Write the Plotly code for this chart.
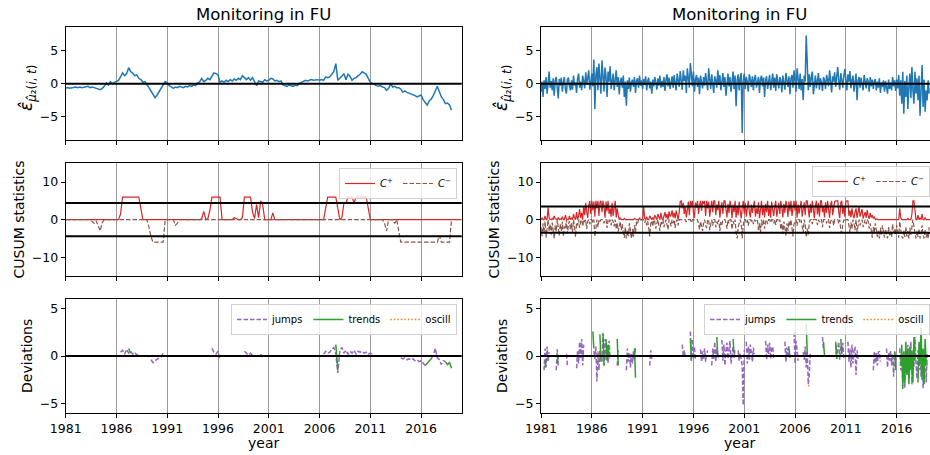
import plotly.graph_objects as go

N = None
START_YEAR = 1981.0
TICK_YEARS = [1981, 1986, 1991, 1996, 2001, 2006, 2011, 2016]
TICK_LABELS = ["1981", "1986", "1991", "1996", "2001", "2006", "2011", "2016"]
TITLE = "Monitoring in FU"
CUSUM_H_LEFT = 4.4
CUSUM_H_RIGHT = 3.5
ZERO = 0.0

# ---------------- left column: 5 samples per year ----------------
left_resid = [
    [-0.7, -0.6, -0.7, -0.6, -0.6],  # 1981
    [-0.5, -0.6, -0.5, -0.6, -0.5],
    [-0.5, -0.4, -0.6, -0.5, -0.6],
    [-0.7, -0.8, -0.9, -0.7, -0.4],
    [0.1, -0.2, 0.3, 0.0, 0.2],      # 1985
    [0.3, 0.5, 1.0, 1.6, 1.2],
    [1.5, 2.4, 1.8, 1.6, 1.2],
    [1.3, 0.8, 0.6, 0.2, 0.3],
    [-0.1, -0.6, -1.1, -1.6, -2.1],
    [-1.7, -1.2, -0.9, -0.3, 0.3],   # 1990
    [0.1, -0.3, -0.5, -0.7, -0.5],
    [-0.6, -0.4, -0.5, -0.6, -0.4],
    [-0.5, -0.3, -0.4, -0.2, -0.3],
    [0.1, 0.3, 0.8, 0.3, 0.5],
    [0.8, 0.6, 1.2, 1.6, 1.5],       # 1995
    [1.3, 0.2, 0.4, 0.2, 0.5],
    [0.3, 0.6, 0.4, 0.7, 0.5],
    [0.8, 0.6, 1.2, 0.9, 0.6],
    [0.9, 0.5, 0.9, 0.2, -0.3],
    [0.4, 0.3, 0.2, 0.6, 0.4],       # 2000
    [0.5, 0.8, 0.7, 0.4, 0.5],
    [0.3, 0.4, -0.2, -0.3, -0.4],
    [-0.2, -0.3, -0.4, -0.2, -0.3],
    [0.0, 0.2, 0.3, 0.5, 0.4],
    [0.5, 0.6, 0.5, 0.6, 0.6],       # 2005
    [0.5, 0.6, 0.5, 1.0, 0.9],
    [1.0, 1.4, 1.8, 3.0, 0.5],
    [0.8, 1.2, 1.5, 0.6, 1.4],
    [1.1, 0.5, 0.8, 0.9, 1.2],
    [1.4, 1.8, 1.6, 1.4, 0.8],       # 2010
    [0.2, 0.0, -0.2, -0.3, -0.4],
    [-0.3, -0.5, -0.6, -1.0, -0.7],
    [0.0, -0.5, -0.4, -0.6, -0.6],
    [-0.8, -1.3, -1.1, -1.3, -1.4],
    [-1.5, -1.6, -1.8, -2.0, -1.8],  # 2015
    [-1.7, -2.4, -2.9, -3.2, -2.6],
    [-2.3, -1.8, -1.0, -0.4, -1.2],
    [-2.0, -2.4, -3.0, -2.9, -3.2],
    [-4.0],                          # 2019
]

left_cplus = [
    [0, 0, 0, 0, 0],  # 1981
    [0, 0, 0, 0, 0],
    [0, 0, 0, 0, 0],
    [0, 0, 0, 0, 0],
    [0, 0, 0, 0, 0],  # 1985
    [0, 0, 1.5, 6.0, 6.0],
    [6.0, 6.0, 6.0, 6.0, 6.0],
    [6.0, 6.0, 3.0, 0, 0],
    [0, 0, 0, 0, 0],
    [0, 0, 0, 0, 0],  # 1990
    [0, 0, 0, 0, 0],
    [0, 0, 0, 0, 0],
    [0, 0, 0, 0, 0],
    [0, 0, 0.3, 2.2, 0],
    [0.3, 2.5, 6.0, 6.0, 6.0],  # 1995
    [6.0, 6.0, 0, 0, 0],
    [0, 0, 0, 0.5, 0.2],
    [0, 0, 0.5, 6.0, 6.0],
    [6.0, 6.0, 2.0, 0.3, 4.0],
    [0.5, 5.0, 4.0, 0, 0],      # 2000
    [0, 0, 1.8, 0, 0],
    [0, 0, 0, 0, 0],
    [0, 0, 0, 0, 0],
    [0, 0, 0, 0, 0],
    [0, 0, 0, 0, 0],            # 2005
    [0, 0, 0, 3.0, 6.0],
    [6.0, 6.0, 6.0, 6.0, 3.0],
    [0, 0.5, 4.3, 4.4, 6.0],
    [6.0, 6.0, 4.5, 6.0, 6.0],
    [6.0, 6.0, 6.0, 6.0, 3.0],  # 2010
    [0, 0, 0, 0, 0],
    [0, 0, 0, 0, 0],
    [0, 0, 0, 0, 0],
    [0, 0, 0, 0, 0],
    [0, 0, 0, 0, 0],            # 2015
    [0, 0, 0, 0, 0],
    [0, 0, 0, 0, 0],
    [0, 0, 0, 0, 0],
    [0, 0, 0, 0, 0, 0],         # 2019-2020
]

left_cminus = [
    [0, 0, 0, 0, 0],  # 1981
    [0, 0, 0, 0, 0],
    [0, 0, 0, -0.5, -1.0],
    [-0.3, -1.5, -3.0, -0.8, 0],
    [0, 0, 0, 0, 0],  # 1985
    [0, 0, 0, 0, 0],
    [0, 0, 0, 0, 0],
    [0, 0, 0, 0, 0],
    [0, -2.0, -4.5, -6.0, -6.0],
    [-6.0, -6.0, -6.0, -6.0, 0],  # 1990
    [0, 0, 0, 0, -1.5],
    [-1.0, 0, 0, 0, 0],
    [0, 0, 0, 0, 0],
    [0, 0, 0, 0, 0],
    [0, 0, 0, 0, 0],  # 1995
    [0, 0, 0, 0, 0],
    [0, 0, 0, 0, 0],
    [0, 0, 0, 0, 0],
    [0, 0, 0, 0, 0],
    [0, 0, 0, 0, 0],  # 2000
    [0, 0, 0, 0, 0],
    [0, 0, 0, 0, 0],
    [0, 0, 0, 0, 0],
    [0, 0, 0, 0, 0],
    [0, 0, 0, 0, 0],  # 2005
    [0, 0, 0, 0, 0],
    [0, 0, 0, 0, 0],
    [0, 0, 0, 0, 0],
    [0, 0, 0, 0, 0],
    [0, 0, 0, 0, 0],  # 2010
    [0, 0, 0, 0, 0],
    [0, 0, -1.0, -3.0, 0],
    [0, 0, -1.0, 0, -3.0],
    [-6.0, -6.0, -6.0, -6.0, -6.0],
    [-6.0, -6.0, -6.0, -6.0, -6.0],  # 2015
    [-6.0, -6.0, -6.0, -6.0, -6.0],
    [-6.0, -6.0, -6.0, -6.0, -4.2],
    [-6.0, -6.0, -6.0, -6.0, -6.0],
    [0],                             # 2019
]

# deviation segments: (first year, values every 0.2 years)
left_jumps = [
    (1986.4, [0.4, 0.6, 0.2, 0.7, 0.3, 0.5, 0.2, 0.4, 0.1, 0.2]),
    (1989.4, [-0.4, -0.7, -0.5, -0.3, -0.2, -0.1, 0.3]),
    (1995.4, [0.8, 0.4, 0.2, 0.5, -0.4]),
    (1998.6, [0.5, 0.3, 0.1, 0.3, 0.1]),
    (2000.2, [0.2, -0.1]),
    (2006.4, [0.2, 0.5, 0.3, 0.4, 0.7, 0.9, 0.3, -1.8, 0.6, 0.9, 0.3, 0.6, 0.2,
              0.5, 0.3, 0.6, 0.2, 0.5, 0.4, 0.5, 0.3, 0.4, 0.2, 0.3, 0.2]),
    (2014.0, [-0.2, -0.3, -0.2, -0.4, -0.3, -0.4, -0.3, -0.5, -0.4, -0.6, -0.5, -0.7, -1.0]),
    (2017.0, [-0.3, 0.1, 0.8, -0.2, -0.4, -0.9, -0.5, -0.6]),
]
left_trends = [
    (1987.2, [0.8, 0.3]),
    (2007.6, [1.2, -1.5]),
    (2016.4, [-1.0, -0.8, -0.6, -0.3]),
    (2018.4, [-0.6, -0.9, -0.7, -1.3]),
]
left_oscill = []

# ---------------- right column: 10 samples per year ----------------
right_resid = [
    [-1.2, 0.3, -2.0, 0.5, -0.8, 1.0, -1.5, 0.2, 1.8, -0.6],   # 1981
    [0.4, -1.0, 0.8, -1.8, 0.5, 1.0, -0.5, -2.2, 0.7, -0.3],
    [0.9, -1.2, 0.2, 1.0, -0.8, -1.5, 0.6, 0.9, -0.4, -1.0],
    [0.5, -0.9, 1.2, -0.3, 0.2, -1.4, 0.8, 1.5, -0.6, 0.3],
    [-1.0, 1.2, 0.4, -0.7, 1.7, -0.2, 0.9, 2.0, -0.9, 0.8],    # 1985
    [1.5, -0.4, 3.6, -3.8, 1.2, 2.5, -1.0, 3.0, 0.2, -1.5],
    [3.5, 0.6, -1.2, 2.4, 1.0, -2.0, 1.8, 0.3, 2.6, -0.8],
    [0.6, 1.5, -1.0, 0.8, 2.0, -0.5, 1.0, -1.6, 0.4, 0.9],
    [-0.6, 1.2, -2.0, 0.3, -3.3, 0.5, -0.8, 0.9, -1.2, 0.2],
    [0.6, -0.5, 1.0, -1.4, 0.4, 0.8, -0.6, 1.2, -0.3, 0.5],    # 1990
    [-0.8, 0.7, -0.2, 1.1, -1.0, 0.4, 0.9, -0.7, 0.3, -1.5],
    [0.6, -0.4, 1.0, 0.2, -0.9, 0.8, -0.3, 1.2, -0.6, 0.4],
    [-0.5, 1.0, -1.1, 0.6, 1.4, -0.4, 0.9, -0.8, 0.5, 1.1],
    [-0.6, 1.3, 0.2, -1.0, 1.5, 0.6, -0.5, 1.9, 0.3, -0.9],
    [2.0, 0.4, 1.2, -1.4, 2.3, 0.8, -0.6, 3.1, 1.0, -0.4],     # 1995
    [1.8, -1.2, 0.6, 1.3, -0.5, 0.9, -1.6, 1.2, 0.2, -0.7],
    [1.0, -0.3, 1.6, 0.4, -1.0, 2.3, 0.6, -0.8, 1.4, 0.2],
    [-1.4, 1.1, 0.5, -0.6, 2.0, -0.2, 1.3, -1.0, 0.8, 1.6],
    [-0.5, 1.0, -1.8, 0.7, 1.5, -0.4, 1.0, -1.2, 0.6, 1.8],
    [-0.8, 1.2, -3.4, 0.5, 1.4, -1.0, 0.9, 1.6, -7.4, 0.4],    # 2000
    [1.5, -0.8, 1.0, 0.3, -1.2, 1.4, 0.6, -0.5, 1.1, -1.0],
    [0.8, 1.3, -0.6, 0.4, 1.0, -1.4, 0.7, 1.2, -0.4, 0.9],
    [-2.0, 0.6, 1.1, -0.8, 0.5, 1.3, -1.0, 0.4, 1.5, -0.6],
    [0.9, -1.1, 1.4, 0.3, -0.7, 1.0, 0.5, -1.3, 1.2, 0.2],
    [-0.9, 1.6, 0.4, -0.5, 1.1, -1.6, 0.8, 1.3, -0.6, 2.0],    # 2005
    [0.5, -1.2, 2.3, 0.6, -0.8, 1.5, -1.0, 0.7, -2.5, 1.2],
    [0.3, 7.2, 0.8, -1.0, 1.4, -0.5, 0.9, 1.8, -1.6, 0.6],
    [1.2, -0.7, 0.4, 1.6, -0.9, 0.8, 0.2, -1.1, 1.0, 0.5],
    [-0.8, 1.3, 0.6, -0.4, 2.0, 0.7, -1.3, 1.1, 0.3, 1.7],
    [-0.5, 1.0, 2.5, 0.4, -0.9, 1.6, 0.8, -0.6, 1.2, 2.2],     # 2010
    [0.6, -1.0, 1.4, 0.3, 1.9, -0.7, 0.5, 1.2, -1.2, 0.8],
    [1.5, -2.5, 0.4, 1.0, -0.6, 0.9, 0.2, -1.0, 1.3, 0.5],
    [-0.7, 0.8, 0.3, -1.2, 1.0, -0.4, 0.6, -0.8, 0.4, 0.7],
    [-1.0, 0.3, -0.6, 0.8, -1.4, 0.2, -0.5, 0.5, -1.2, 0.4],
    [-0.3, -1.5, 0.6, -0.8, 0.2, -1.0, 1.0, -0.4, 0.5, -1.1],  # 2015
    [0.6, -0.7, 1.3, -1.8, 0.5, -3.0, 1.8, -4.5, 0.4, -2.0],
    [1.2, -3.8, -0.5, 1.5, -2.2, 2.5, -1.0, -3.0, 1.8, -1.5],
    [0.8, -2.5, 1.2, -4.8, -1.0, 2.8, -3.5, 0.6, -4.2, -1.0],
    [-2.5, 0.5, -1.5],                                         # 2019
]

right_cplus = [
    [0, 0.5, 0, 0, 1.0, 0, 0, 3.3, 0.5, 0],            # 1981
    [0, 0.3, 0, 1.0, 0.2, 0, 0, 0.6, 0, 0.2],
    [0, 0.8, 0, 0, 1.2, 0.3, 0, 0, 1.0, 0],
    [0.4, 0, 1.5, 0.5, 0, 2.0, 0, 1.0, 2.8, 0.5],
    [1.8, 0, 3.5, 1.2, 4.5, 2.0, 0.5, 3.8, 5.0, 1.5],  # 1985
    [5.0, 2.5, 4.8, 0.8, 5.0, 3.0, 5.0, 1.0, 4.6, 5.0],
    [2.0, 5.0, 3.5, 0.5, 4.8, 2.2, 5.0, 1.5, 3.0, 0.8],
    [4.5, 1.0, 2.5, 5.0, 0.6, 3.0, 1.2, 0, 0.5, 0],
    [0, 0, 0.3, 0, 0, 0, 0.2, 0, 0, 0],
    [0, 0, 0.3, 0, 0, 0, 0, 0.4, 0, 0],                # 1990
    [0, 3.5, 0.4, 0, 0.8, 0, 0, 1.0, 0.2, 0],
    [0.6, 0, 1.2, 0.3, 0, 1.5, 0.5, 0, 1.8, 0.2],
    [0, 1.0, 2.0, 0.4, 1.5, 0, 2.2, 0.8, 1.2, 2.5],
    [0.6, 1.8, 0.3, 2.4, 1.0, 0, 2.0, 4.8, 5.0, 3.0],
    [4.5, 1.5, 3.5, 0.6, 2.5, 4.8, 1.2, 5.0, 3.8, 5.0],  # 1995
    [2.0, 0.5, 4.5, 3.2, 5.0, 1.5, 3.8, 5.0, 2.4, 5.0],
    [4.2, 5.0, 1.0, 5.0, 3.0, 4.8, 0.8, 3.5, 5.0, 2.0],
    [5.0, 5.0, 1.2, 4.0, 2.5, 5.0, 0.5, 3.0, 4.6, 1.5],
    [5.0, 5.0, 2.8, 0.6, 4.2, 1.8, 5.0, 3.5, 0.4, 4.0],
    [2.0, 5.0, 0.5, 3.6, 1.2, 4.8, 2.5, 0.3, 3.0, 5.0],  # 2000
    [1.5, 4.5, 0.8, 3.2, 5.0, 2.0, 0.6, 4.0, 1.8, 3.5],
    [5.0, 0.8, 3.0, 1.5, 4.6, 0.4, 2.8, 5.0, 1.2, 3.8],
    [0.6, 4.2, 2.0, 5.0, 1.0, 3.4, 0.5, 4.8, 2.6, 1.0],
    [3.6, 5.0, 0.8, 2.4, 4.5, 1.5, 5.0, 3.0, 0.6, 4.2],
    [1.8, 5.0, 3.5, 0.7, 4.8, 2.2, 5.0, 1.0, 3.8, 5.0],  # 2005
    [2.4, 5.0, 0.5, 4.0, 1.6, 3.6, 5.0, 0.8, 2.5, 4.6],
    [1.2, 5.0, 5.0, 3.0, 0.6, 4.2, 1.8, 5.0, 2.8, 0.4],
    [3.8, 5.0, 1.4, 4.4, 0.8, 5.0, 5.0, 2.0, 3.4, 0.6],
    [4.6, 1.8, 5.0, 2.6, 0.5, 4.0, 5.0, 1.2, 3.2, 4.8],
    [5.0, 5.0, 5.0, 2.0, 0.4, 4.5, 5.0, 1.5, 3.6, 0.8],  # 2010
    [4.8, 5.0, 5.0, 1.0, 2.5, 0.6, 3.0, 1.2, 0.4, 2.0],
    [3.0, 0.5, 2.2, 3.5, 0.8, 1.6, 2.8, 0.3, 1.2, 2.0],
    [0.5, 2.6, 1.0, 0.2, 1.8, 0.6, 1.2, 0.3, 0.8, 0],
    [0.2, 0, 0, 0, 0, 0, 0, 0, 0, 0],
    [0, 0, 0, 0, 0, 0, 0, 0, 0, 0],                      # 2015
    [0, 0, 0, 3.0, 0.5, 0, 0, 0, 0, 0],
    [0, 0.3, 0, 0, 0, 1.5, 5.0, 5.0, 2.5, 0],
    [0, 1.2, 0, 0.4, 0, 1.5, 0, 0, 0.6, 0],
    [0, 0, 0, 0],                                        # 2019
]

right_cminus = [
    [-2.0, -4.5, -1.0, -3.5, -0.5, -4.8, -2.5, 0, -3.0, -1.2],    # 1981
    [-4.0, -0.8, -2.8, -5.0, -1.5, -3.2, 0, -2.0, -4.2, -1.0],
    [-3.0, -0.5, -4.5, -1.8, -2.5, 0, -3.8, -1.2, -0.4, -2.6],
    [-1.0, -3.4, 0, -2.0, -4.6, -0.8, -1.5, 0, -2.2, -0.5],
    [0, -1.8, 0, -0.6, 0, -2.5, -0.4, 0, -1.2, 0],                # 1985
    [0, -0.8, 0, -4.5, -1.5, 0, -2.0, 0, -0.5, 0],
    [0, 0, -1.0, 0, 0, -2.2, 0, -0.6, 0, -1.5],
    [0, -0.5, -1.8, 0, -2.5, -0.8, -3.2, -1.5, -0.5, -2.8],
    [-1.2, -3.5, -4.8, -2.0, -5.0, -3.0, -4.4, -1.0, -3.8, -5.0],
    [-2.5, -4.5, -1.5, -3.2, -0.5, -1.0, 0, -0.3, 0, 0],          # 1990
    [0, 0, -0.8, 0, -1.5, -0.4, -2.2, -4.5, -1.0, -0.3],
    [-1.8, 0, -0.6, -2.4, -1.0, 0, -1.6, -3.0, -0.5, -1.2],
    [0, -2.0, -0.8, 0, -1.4, -2.6, 0, -0.6, -1.8, 0],
    [-1.0, 0, -2.2, -0.4, 0, -1.5, 0, 0, 0, 0],
    [0, 0, 0, -0.6, 0, 0, 0, 0, -0.8, 0],                        # 1995
    [0, 0, 0, 0, 0, -1.2, -2.6, -0.5, -1.8, -3.0],
    [-0.8, 0, -1.5, -2.2, 0, 0, -2.8, -1.0, 0, -1.6],
    [0, 0, -2.0, -0.5, -1.2, 0, -3.0, -0.6, -1.4, 0],
    [0, 0, -0.8, -2.4, 0, -1.0, 0, 0, -2.6, -0.4],
    [-1.2, 0, -3.5, -5.0, -2.0, -0.6, 0, -1.0, -5.0, -1.5],      # 2000
    [0, 0, -0.8, 0, -1.6, 0, 0, -0.4, 0, -1.2],
    [0, -0.5, 0, 0, -2.8, -1.0, -3.6, 0, -1.5, 0],
    [-2.4, -0.6, 0, -1.2, 0, 0, -0.8, 0, 0, -1.0],
    [0, -1.4, 0, 0, -0.6, 0, -2.6, -1.0, -3.8, -0.5],
    [-2.2, -4.2, -1.0, -3.0, -0.4, -1.8, 0, -2.6, -4.5, -1.2],   # 2005
    [-0.5, 0, -1.6, 0, 0, -0.8, 0, -2.0, -3.5, 0],
    [-1.0, -4.6, -2.4, -4.0, -0.8, 0, 0, -1.2, 0, 0],
    [0, 0, -1.4, 0, -0.6, 0, 0, -2.0, 0, 0],
    [0, -1.0, 0, 0, -2.2, -0.5, 0, 0, -1.5, 0],
    [0, 0, 0, -1.0, 0, -2.8, -3.6, -1.2, 0, -0.5],               # 2010
    [0, 0, 0, -1.5, -3.5, -0.8, -2.4, 0, -1.0, -2.8],
    [0, -3.2, -1.0, 0, -1.5, -0.4, 0, -2.0, -0.6, 0],
    [-1.2, 0, -0.5, -2.4, -1.0, -3.6, -4.8, -2.0, -3.4, -1.0],
    [-2.6, -4.5, -3.0, -5.0, -2.2, -4.0, -1.5, -3.6, -4.8, -2.5],
    [-3.8, -5.0, -2.0, -4.2, -3.0, -4.6, -1.2, -3.5, -2.4, -4.0],  # 2015
    [-1.5, -3.2, -4.8, -0.5, -2.6, -4.4, -5.0, -3.0, -4.6, -2.0],
    [-4.5, -3.0, -5.0, -2.2, -4.0, -1.0, 0, -1.8, -3.5, -5.0],
    [-3.0, -4.6, -2.4, -5.0, -3.8, -1.5, -4.2, -5.0, -2.6, -4.8],
    [-3.5, -5.0, -2.0],                                           # 2019
]

# deviation segments: (first year, values every 0.1 years)
right_jumps = [
    (1981.3, [-1.5, 0.8, -1.2, 1.0, -0.6, 0.4]),
    (1982.5, [-1.5, 0.7, -1.0]),
    (1983.5, [0.2, -1.0]),
    (1984.5, [-1.3, 0.5, -0.8, 1.5, -0.2, 1.8, -1.0, 1.2]),
    (1986.2, [0.5, -0.3, 1.0, -2.7, 0.4, -1.5, 0.8]),
    (1987.0, [-0.6, 2.4, -1.0, 1.8, -0.4, 1.2, -0.8, 1.6, -0.3]),
    (1988.5, [-1.0, 0.6]),
    (1989.4, [-1.5, 0.8, -0.6, 0.4, -1.2, 0.2, -0.8, 0.5, -0.4, 0.9]),
    (1991.7, [-1.0, 0.6, -0.3]),
    (1994.9, [1.2, 0.0, 0.6, -0.2]),
    (1995.7, [2.6, -0.5, 1.8, -0.3, 1.0, -0.5]),
    (1996.7, [0.7, -0.6, 0.5, -0.4, 0.8, -0.6, 0.2, 0.6]),
    (1997.8, [-1.0, 0.8, -0.3, 1.5, -0.6, 0.9, 0.2, -0.4]),
    (1998.8, [1.7, -0.5, 1.2, -1.0, 0.6, 1.4, -0.3, 0.8, 1.6, -0.8, 0.4, 1.0, -0.2, 0.8]),
    (2000.4, [0.6, -0.5, 0.3, -0.4, -1.0, -5.2, 0.6]),
    (2001.2, [1.5, -0.8, 1.0, -0.4, 1.2, 0.3, -0.6, 0.9, 0.2]),
    (2003.1, [1.6, -0.4, 1.2, 0.2, 1.4, -0.3, 0.8, 1.0, -0.2]),
    (2005.0, [1.5, -0.6, 0.9, -0.2, 1.2]),
    (2005.9, [2.5, -0.8, 1.6, 0.3, -0.5]),
    (2006.8, [0.4, -0.4, 1.0, -1.2, 0.5, -3.0, -2.0, 0.3]),
    (2008.7, [2.0, 0.6]),
    (2010.0, [1.2, -0.3, 0.8, 1.5, -0.4, 1.0, 0.3, 1.4, -0.2]),
    (2011.2, [1.5, -0.6, 0.8, -1.2, 1.2, -0.8, 0.5, 1.0, -2.0, 0.6, -0.3]),
    (2013.7, [-1.5, 0.5, -0.8, 0.3, -1.0, 0.4, 0.5, -0.6]),
    (2015.0, [0.8, -1.2, 0.3, -0.5, 0.6, -1.0, 0.2, -2.2, 0.4, -0.5]),
    (2016.3, [0.8, -1.5, 0.2, -2.8, -0.5, -3.4, 0.6, -1.8, 1.2, -2.5, -0.4, 1.5, -3.0, 0.2,
              -1.2, 2.0, -0.8, -2.4, 0.6, -1.5, 1.0, -2.2, 0.3, -3.4, -0.6, 1.2, -2.8, 0.2]),
]
right_trends = [
    (1981.4, [-1.2, -0.3]),
    (1982.6, [-0.8, 0.0]),
    (1986.1, [2.6, 0.8]),
    (1986.8, [2.3, -0.6]),
    (1987.1, [2.4, -1.0]),
    (1987.4, [1.8, -0.5, 1.2, -0.2]),
    (1988.5, [1.8, -1.0]),
    (1990.2, [0.8, -2.3]),
    (1995.7, [1.8, -0.5]),
    (1998.3, [2.0, 0.0]),
    (1999.9, [1.8, 0.3]),
    (2005.4, [0.8, -0.2]),
    (2007.1, [3.4, 0.3]),
    (2008.8, [1.5, 0.0]),
    (2010.0, [1.5, -0.3]),
    (2010.5, [1.8, 0.2]),
    (2015.8, [0.5, -1.5]),
    (2016.4, [-1.0, 1.2, -3.5, 0.5, -2.8, 1.5, -2.0, 0.8, -3.0, 1.0, -1.5, 0.6, -2.8, 2.0, -0.5]),
    (2018.1, [-2.8, 1.5, -1.0, 3.0, -2.5, 0.8, -3.0, 1.8, -0.6, -1.0]),
]
right_oscill = [
    (1986.6, [0.5, -0.3]),
    (2007.3, [-3.2, -3.1]),
]

# ---------------- colours ----------------
BLUE = "#1f77b4"
RED = "#d62728"
BROWN = "#8c564b"
PURPLE = "#9467bd"
GREEN = "#2ca02c"
ORANGE = "#ff7f0e"
FONT = "DejaVu Sans"


def flat(rows):
    return [v for row in rows for v in row]


def regular(rows, per_year):
    ys = flat(rows)
    xs = [START_YEAR + i / per_year for i in range(len(ys))]
    return xs, ys


def segments(segs, per_year):
    xs, ys = [], []
    for start, vals in segs:
        xs += [start + i / per_year for i in range(len(vals))] + [None]
        ys += list(vals) + [None]
    if not xs:
        xs, ys = [START_YEAR], [None]
    return xs, ys


fig = go.Figure()


def line(xy, xa, ya, color, width, dash=None, name=None, legend=None):
    xs, ys = xy
    fig.add_trace(go.Scatter(
        x=xs, y=ys, mode="lines", xaxis=xa, yaxis=ya, name=name,
        line=dict(color=color, width=width, dash=dash),
        showlegend=name is not None, legend=legend, connectgaps=False,
        hoverinfo="skip",
    ))


DASH = "4.5px,2px"
DOT = "1.5px,2px"

# residual panels
line(regular(left_resid, 5), "x", "y", BLUE, 1.5)
line(regular(right_resid, 10), "x2", "y2", BLUE, 1.5)

# CUSUM panels
CP = "<i>C</i><sup>+</sup>"
CM = "<i>C</i><sup>−</sup>"
line(regular(left_cplus, 5), "x3", "y3", RED, 1.2, name=CP, legend="legend")
line(regular(left_cminus, 5), "x3", "y3", BROWN, 1.2, dash=DASH, name=CM, legend="legend")
line(regular(right_cplus, 10), "x4", "y4", RED, 1.2, name=CP, legend="legend2")
line(regular(right_cminus, 10), "x4", "y4", BROWN, 1.2, dash=DASH, name=CM, legend="legend2")

# deviation panels
line(segments(left_jumps, 5), "x5", "y5", PURPLE, 1.5, dash=DASH, name="jumps", legend="legend3")
line(segments(left_trends, 5), "x5", "y5", GREEN, 1.5, name="trends", legend="legend3")
line(segments(left_oscill, 5), "x5", "y5", ORANGE, 1.5, dash=DOT, name="oscill", legend="legend3")
line(segments(right_jumps, 10), "x6", "y6", PURPLE, 1.5, dash=DASH, name="jumps", legend="legend4")
line(segments(right_trends, 10), "x6", "y6", GREEN, 1.5, name="trends", legend="legend4")
line(segments(right_oscill, 10), "x6", "y6", ORANGE, 1.5, dash=DOT, name="oscill", legend="legend4")

# ---------------- layout ----------------
W, H = 930, 455


def fx(p):
    return p / W


def fy(p):
    return 1 - p / H


COLS = {"left": [fx(65.7), fx(461.7)], "right": [fx(541), 1.0]}
XR = {"left": [1981.0, 2020.0], "right": [1981.0, 2019.28]}
ROWS = {"top": [fy(140), fy(27.3)], "mid": [fy(276), fy(163.3)], "bot": [fy(412.7), fy(299.3)]}
YR = {"top": [-8.45, 8.45], "mid": [-15.0, 15.0], "bot": [-6.0, 6.0]}
YT = {"top": [-5, 0, 5], "mid": [-10, 0, 10], "bot": [-5, 0, 5]}

panels = [
    ("", "left", "top"), ("2", "right", "top"),
    ("3", "left", "mid"), ("4", "right", "mid"),
    ("5", "left", "bot"), ("6", "right", "bot"),
]

tickfont = dict(family=FONT, size=12.5, color="black")
layout = {}
for k, col, row in panels:
    layout["xaxis" + k] = dict(
        domain=COLS[col], range=XR[col], anchor="y" + k,
        tickvals=TICK_YEARS, ticktext=TICK_LABELS, showticklabels=(row == "bot"),
        ticks="outside", ticklen=4, tickwidth=1, tickcolor="black",
        showline=True, linecolor="black", linewidth=1, mirror=True,
        showgrid=True, gridcolor="#9a9a9a", gridwidth=1, zeroline=False,
        tickfont=tickfont, fixedrange=True,
    )
    layout["yaxis" + k] = dict(
        domain=ROWS[row], range=YR[row], anchor="x" + k,
        tickvals=YT[row], ticks="outside", ticklen=4, tickwidth=1, tickcolor="black",
        showline=True, linecolor="black", linewidth=1, mirror=(col == "left"),
        showgrid=False, zeroline=False, tickfont=tickfont, fixedrange=True,
    )

shapes = []
for k, col, row in panels:
    if row == "mid":
        h = CUSUM_H_LEFT if col == "left" else CUSUM_H_RIGHT
        levels = [h, -h]
    else:
        levels = [ZERO]
    for lv in levels:
        shapes.append(dict(
            type="line", xref=("x" + k) + " domain", yref="y" + k,
            x0=0, x1=1, y0=lv, y1=lv, line=dict(color="black", width=2), layer="above",
        ))

ann = []
for xc in (263, 739):
    ann.append(dict(text=TITLE, x=fx(xc), y=fy(15), xref="paper", yref="paper",
                    showarrow=False, xanchor="center", yanchor="middle",
                    font=dict(family=FONT, size=16.5, color="black")))
    ann.append(dict(text="year", x=fx(xc), y=fy(443), xref="paper", yref="paper",
                    showarrow=False, xanchor="center", yanchor="middle",
                    font=dict(family=FONT, size=14, color="black")))

EPS_LABEL = "<i>ε̂</i><sub><i>μ̂</i>₂(<i>i</i>, <i>t</i>)</sub>"
ylabels = [
    (EPS_LABEL, 28, 88, 17),
    ("CUSUM statistics", 18, 219.5, 14),
    ("Deviations", 27, 356, 14),
]
for text, xl, yc, size in ylabels:
    for off in (0, 475):
        ann.append(dict(text=text, x=fx(xl + off), y=fy(yc), xref="paper", yref="paper",
                        showarrow=False, textangle=-90, xanchor="center", yanchor="middle",
                        font=dict(family=FONT, size=size, color="black")))

legend_style = dict(
    orientation="h", bgcolor="rgba(255,255,255,0.8)", bordercolor="#d0d0d0",
    borderwidth=1, font=dict(family=FONT, size=10, color="black"),
    xanchor="right", yanchor="top", tracegroupgap=0, itemwidth=30,
)

fig.update_layout(
    width=W, height=H, margin=dict(l=0, r=0, t=0, b=0, autoexpand=False),
    paper_bgcolor="white", plot_bgcolor="white",
    font=dict(family=FONT, color="black"),
    shapes=shapes, annotations=ann, hovermode=False,
    legend=dict(legend_style, x=fx(457), y=fy(168)),
    legend2=dict(legend_style, x=1.0, y=fy(166)),
    legend3=dict(legend_style, x=fx(457), y=fy(304)),
    legend4=dict(legend_style, x=1.0, y=fy(304)),
    **layout,
)

fig.write_html("out.html", config={"displayModeBar": False})
